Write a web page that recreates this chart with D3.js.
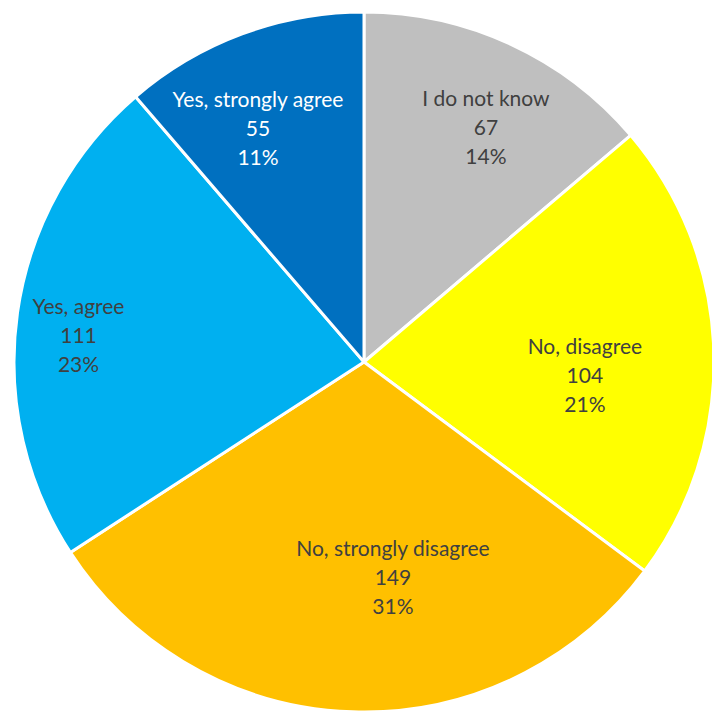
<!DOCTYPE html>
<html>
<head>
<meta charset="utf-8">
<script src="https://cdn.jsdelivr.net/npm/d3@7"></script>
<style>
  body { margin: 0; background: #fff; }
  svg { display: block; }
</style>
</head>
<body>
<svg width="712" height="711"></svg>
<script>
// data
const categories = ['I do not know', 'No, disagree', 'No, strongly disagree', 'Yes, agree', 'Yes, strongly agree'];
const counts = [67, 104, 149, 111, 55];
const percentLabels = ['14%', '21%', '31%', '23%', '11%'];

const colors = ['#BFBFBF', '#FFFF00', '#FFC000', '#00B0F0', '#0070C0'];
const textColors = ['#404040', '#404040', '#404040', '#404040', '#ffffff'];
// small label nudges (Excel "best fit" doesn't put them exactly on the centroid)
const labelShift = [[17, -5], [-29, 24], [37, -32], [-38, 11], [-19, 3]];

let svg = d3.select('svg');
const cx = 364, cy = 362, radius = 350;

const rows = categories.map((c, i) => ({ name: c, value: counts[i], pct: percentLabels[i], i }));

const pie = d3.pie().value(d => d.value).sort(null);
const arc = d3.arc().innerRadius(0).outerRadius(radius);
const labelArc = d3.arc().innerRadius(250).outerRadius(250);

let g = svg.append('g').attr('transform', `translate(${cx},${cy})`);

const arcs = pie(rows);

g.selectAll('path.slice')
  .data(arcs)
  .join('path')
  .attr('class', 'slice')
  .attr('d', arc)
  .attr('fill', d => colors[d.data.i])
  .attr('stroke', '#fff')
  .attr('stroke-width', 3)
  .attr('stroke-linejoin', 'round');

const lbl = g.selectAll('g.lbl')
  .data(arcs)
  .join('g')
  .attr('class', 'lbl')
  .attr('transform', d => {
    const c = labelArc.centroid(d);
    const s = labelShift[d.data.i];
    return `translate(${c[0] + s[0]},${c[1] + s[1]})`;
  });

lbl.each(function(d) {
  const lines = [d.data.name, d.data.value, d.data.pct];
  d3.select(this).selectAll('text')
    .data(lines)
    .join('text')
    .attr('y', (t, k) => (k - 1) * 29)
    .attr('text-anchor', 'middle')
    .attr('dominant-baseline', 'middle')
    .attr('font-family', 'Lato, "Open Sans", sans-serif')
    .attr('font-size', 21)
    .attr('fill', textColors[d.data.i])
    .text(t => t);
});
</script>
</body>
</html>
